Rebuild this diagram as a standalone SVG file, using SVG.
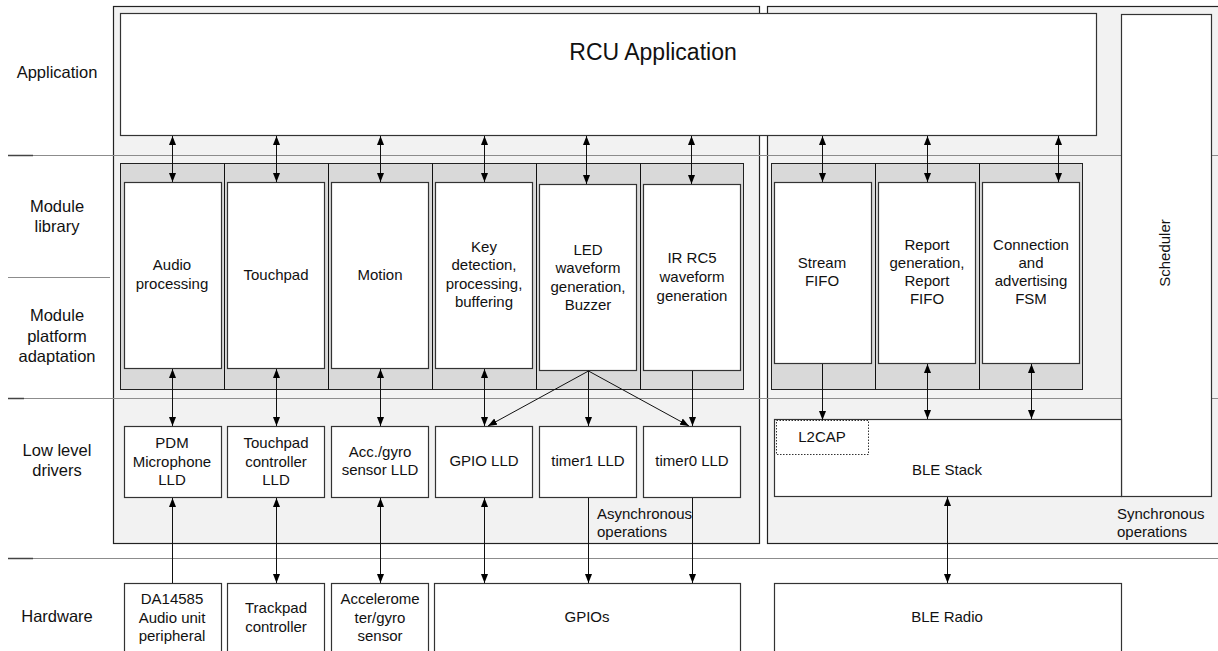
<svg xmlns="http://www.w3.org/2000/svg" width="1218" height="651" viewBox="0 0 1218 651">
<style>
text{font-family:"Liberation Sans",Arial,sans-serif;fill:#111;}
.lbl{font-size:16.5px;text-anchor:middle;}
.bx{font-size:15px;text-anchor:middle;}
.ops{font-size:15px;}
.panel{fill:#f2f2f2;stroke:#222;stroke-width:1.2;}
.strip{fill:#d9d9d9;stroke:#222;stroke-width:1;}
.box{fill:#fff;stroke:#333;stroke-width:1.2;}
.sep{stroke:#8c8c8c;stroke-width:1.2;fill:none;}
.sepd{stroke:#444;stroke-width:1.5;fill:none;}
.cn{stroke:#111;stroke-width:1;fill:none;}
</style>
<defs>
<marker id="ah" viewBox="0 0 9 8" refX="9" refY="4" markerWidth="9" markerHeight="8" markerUnits="userSpaceOnUse" orient="auto-start-reverse">
<path d="M0,0.5 L9,4 L0,7.5 Z" fill="#000"/>
</marker>
</defs>
<rect width="1218" height="651" fill="#fff"/>

<g id="panels">
<rect class="panel" x="113.5" y="6.5" width="646" height="537"/>
<rect class="panel" x="767.5" y="6.5" width="460" height="537"/>
</g>

<g id="separators">
<line class="sep" x1="8" y1="155.5" x2="1218" y2="155.5"/>
<line class="sep" x1="8" y1="398.5" x2="1218" y2="398.5"/>
<line class="sep" x1="8" y1="558.5" x2="1218" y2="558.5"/>
<line class="sep" x1="8" y1="277.5" x2="110" y2="277.5"/>
<line class="sepd" x1="8" y1="155.5" x2="33" y2="155.5"/>
<line class="sepd" x1="8" y1="398.5" x2="24" y2="398.5"/>
<line class="sepd" x1="8" y1="558.5" x2="33" y2="558.5"/>
</g>

<g id="layer-labels">
<text class="lbl" x="57" y="78">Application</text>
<text class="lbl" x="57" y="212">Module</text>
<text class="lbl" x="57" y="232">library</text>
<text class="lbl" x="57" y="321">Module</text>
<text class="lbl" x="57" y="342">platform</text>
<text class="lbl" x="57" y="362">adaptation</text>
<text class="lbl" x="57" y="456">Low level</text>
<text class="lbl" x="57" y="476">drivers</text>
<text class="lbl" x="57" y="622">Hardware</text>
</g>

<g id="rcu-application">
<rect class="box" x="120.5" y="13.5" width="976" height="122"/>
<text x="653" y="60" style="font-size:23px;text-anchor:middle;">RCU Application</text>
</g>

<g id="scheduler">
<rect class="box" x="1121.5" y="14.5" width="90" height="482"/>
<text class="bx" transform="translate(1170,253) rotate(-90)">Scheduler</text>
</g>

<g id="module-strips">
<rect class="strip" x="120.5" y="163.5" width="623" height="226"/>
<line class="cn" x1="224.5" y1="163.5" x2="224.5" y2="389.5"/>
<line class="cn" x1="328.5" y1="163.5" x2="328.5" y2="389.5"/>
<line class="cn" x1="432.5" y1="163.5" x2="432.5" y2="389.5"/>
<line class="cn" x1="536.5" y1="163.5" x2="536.5" y2="389.5"/>
<line class="cn" x1="640.5" y1="163.5" x2="640.5" y2="389.5"/>
<rect class="strip" x="771.5" y="163.5" width="311" height="226"/>
<line class="cn" x1="875.5" y1="163.5" x2="875.5" y2="389.5"/>
<line class="cn" x1="979.5" y1="163.5" x2="979.5" y2="389.5"/>
</g>

<g id="audio-processing">
<rect class="box" x="124.5" y="182.5" width="97" height="186"/>
<text class="bx" x="172" y="270">Audio</text>
<text class="bx" x="172" y="289">processing</text>
</g>
<g id="touchpad">
<rect class="box" x="227.5" y="182.5" width="97" height="186"/>
<text class="bx" x="276" y="280">Touchpad</text>
</g>
<g id="motion">
<rect class="box" x="331.5" y="182.5" width="97" height="186"/>
<text class="bx" x="380" y="280">Motion</text>
</g>
<g id="key-detection">
<rect class="box" x="435.5" y="182.5" width="97" height="186"/>
<text class="bx" x="484" y="252">Key</text>
<text class="bx" x="484" y="270">detection,</text>
<text class="bx" x="484" y="289">processing,</text>
<text class="bx" x="484" y="307">buffering</text>
</g>
<g id="led-waveform">
<rect class="box" x="539.5" y="184.5" width="97" height="186"/>
<text class="bx" x="588" y="255">LED</text>
<text class="bx" x="588" y="273">waveform</text>
<text class="bx" x="588" y="292">generation,</text>
<text class="bx" x="588" y="310">Buzzer</text>
</g>
<g id="ir-rc5">
<rect class="box" x="643.5" y="184.5" width="97" height="186"/>
<text class="bx" x="692" y="263">IR RC5</text>
<text class="bx" x="692" y="282">waveform</text>
<text class="bx" x="692" y="301">generation</text>
</g>
<g id="stream-fifo">
<rect class="box" x="774.5" y="182.5" width="97" height="181"/>
<text class="bx" x="822" y="268">Stream</text>
<text class="bx" x="822" y="286">FIFO</text>
</g>
<g id="report-generation">
<rect class="box" x="878.5" y="182.5" width="97" height="181"/>
<text class="bx" x="927" y="250">Report</text>
<text class="bx" x="927" y="268">generation,</text>
<text class="bx" x="927" y="286">Report</text>
<text class="bx" x="927" y="304">FIFO</text>
</g>
<g id="connection-fsm">
<rect class="box" x="982.5" y="182.5" width="97" height="181"/>
<text class="bx" x="1031" y="250">Connection</text>
<text class="bx" x="1031" y="268">and</text>
<text class="bx" x="1031" y="286">advertising</text>
<text class="bx" x="1031" y="304">FSM</text>
</g>

<g id="pdm-lld">
<rect class="box" x="124.5" y="426.5" width="97" height="71"/>
<text class="bx" x="172" y="448">PDM</text>
<text class="bx" x="172" y="467">Microphone</text>
<text class="bx" x="172" y="485">LLD</text>
</g>
<g id="touchpad-lld">
<rect class="box" x="227.5" y="426.5" width="97" height="71"/>
<text class="bx" x="276" y="448">Touchpad</text>
<text class="bx" x="276" y="467">controller</text>
<text class="bx" x="276" y="485">LLD</text>
</g>
<g id="accgyro-lld">
<rect class="box" x="331.5" y="426.5" width="97" height="71"/>
<text class="bx" x="380" y="457">Acc./gyro</text>
<text class="bx" x="380" y="475">sensor LLD</text>
</g>
<g id="gpio-lld">
<rect class="box" x="435.5" y="426.5" width="97" height="71"/>
<text class="bx" x="484" y="466">GPIO LLD</text>
</g>
<g id="timer1-lld">
<rect class="box" x="539.5" y="426.5" width="97" height="71"/>
<text class="bx" x="588" y="466">timer1 LLD</text>
</g>
<g id="timer0-lld">
<rect class="box" x="643.5" y="426.5" width="97" height="71"/>
<text class="bx" x="692" y="466">timer0 LLD</text>
</g>
<g id="ble-stack">
<rect class="box" x="774.5" y="419.5" width="347" height="77"/>
<text class="bx" x="947" y="475">BLE Stack</text>
</g>
<g id="l2cap">
<rect x="776.5" y="420.5" width="92" height="34" fill="#fff" stroke="#333" stroke-width="1" stroke-dasharray="1.5,1.5"/>
<text class="bx" x="822" y="442">L2CAP</text>
</g>

<g id="da14585-audio">
<rect class="box" x="124.5" y="583.5" width="97" height="80"/>
<text class="bx" x="172" y="604">DA14585</text>
<text class="bx" x="172" y="623">Audio unit</text>
<text class="bx" x="172" y="641">peripheral</text>
</g>
<g id="trackpad-controller">
<rect class="box" x="227.5" y="583.5" width="97" height="80"/>
<text class="bx" x="276" y="613">Trackpad</text>
<text class="bx" x="276" y="632">controller</text>
</g>
<g id="accelerometer">
<rect class="box" x="331.5" y="583.5" width="97" height="80"/>
<text class="bx" x="380" y="604">Accelerome</text>
<text class="bx" x="380" y="623">ter/gyro</text>
<text class="bx" x="380" y="641">sensor</text>
</g>
<g id="gpios">
<rect class="box" x="434.5" y="583.5" width="306" height="80"/>
<text class="bx" x="587" y="622">GPIOs</text>
</g>
<g id="ble-radio">
<rect class="box" x="774.5" y="583.5" width="347" height="80"/>
<text class="bx" x="947" y="622">BLE Radio</text>
</g>

<g id="op-labels">
<text class="ops" x="597" y="519">Asynchronous</text>
<text class="ops" x="597" y="537">operations</text>
<text class="ops" x="1117" y="519">Synchronous</text>
<text class="ops" x="1117" y="537">operations</text>
</g>

<g id="connectors">
<line class="cn" x1="172.5" y1="136" x2="172.5" y2="182" marker-start="url(#ah)" marker-end="url(#ah)"/>
<line class="cn" x1="276.5" y1="136" x2="276.5" y2="182" marker-start="url(#ah)" marker-end="url(#ah)"/>
<line class="cn" x1="380.5" y1="136" x2="380.5" y2="182" marker-start="url(#ah)" marker-end="url(#ah)"/>
<line class="cn" x1="484.5" y1="136" x2="484.5" y2="182" marker-start="url(#ah)" marker-end="url(#ah)"/>
<line class="cn" x1="586.5" y1="136" x2="586.5" y2="184" marker-start="url(#ah)" marker-end="url(#ah)"/>
<line class="cn" x1="691.5" y1="136" x2="691.5" y2="184" marker-start="url(#ah)" marker-end="url(#ah)"/>
<line class="cn" x1="822.5" y1="136" x2="822.5" y2="182" marker-start="url(#ah)" marker-end="url(#ah)"/>
<line class="cn" x1="927.5" y1="136" x2="927.5" y2="182" marker-start="url(#ah)" marker-end="url(#ah)"/>
<line class="cn" x1="1058.5" y1="136" x2="1058.5" y2="182" marker-start="url(#ah)" marker-end="url(#ah)"/>
<line class="cn" x1="172.5" y1="369" x2="172.5" y2="426" marker-start="url(#ah)" marker-end="url(#ah)"/>
<line class="cn" x1="276.5" y1="369" x2="276.5" y2="426" marker-start="url(#ah)" marker-end="url(#ah)"/>
<line class="cn" x1="380.5" y1="369" x2="380.5" y2="426" marker-start="url(#ah)" marker-end="url(#ah)"/>
<line class="cn" x1="484.5" y1="369" x2="484.5" y2="426" marker-start="url(#ah)" marker-end="url(#ah)"/>
<line class="cn" x1="588.5" y1="371" x2="488" y2="426" marker-end="url(#ah)"/>
<line class="cn" x1="588.5" y1="371" x2="588.5" y2="426" marker-end="url(#ah)"/>
<line class="cn" x1="588.5" y1="371" x2="689" y2="426" marker-end="url(#ah)"/>
<line class="cn" x1="692.5" y1="371" x2="692.5" y2="426" marker-end="url(#ah)"/>
<line class="cn" x1="822.5" y1="364" x2="822.5" y2="420" marker-end="url(#ah)"/>
<line class="cn" x1="927.5" y1="364" x2="927.5" y2="419" marker-start="url(#ah)" marker-end="url(#ah)"/>
<line class="cn" x1="1031.5" y1="364" x2="1031.5" y2="419" marker-start="url(#ah)" marker-end="url(#ah)"/>
<line class="cn" x1="172.5" y1="583" x2="172.5" y2="498" marker-end="url(#ah)"/>
<line class="cn" x1="276.5" y1="498" x2="276.5" y2="583" marker-start="url(#ah)" marker-end="url(#ah)"/>
<line class="cn" x1="380.5" y1="498" x2="380.5" y2="583" marker-start="url(#ah)" marker-end="url(#ah)"/>
<line class="cn" x1="484.5" y1="498" x2="484.5" y2="583" marker-start="url(#ah)" marker-end="url(#ah)"/>
<line class="cn" x1="588.5" y1="498" x2="588.5" y2="583" marker-end="url(#ah)"/>
<line class="cn" x1="692.5" y1="498" x2="692.5" y2="583" marker-end="url(#ah)"/>
<line class="cn" x1="947.5" y1="497" x2="947.5" y2="583" marker-start="url(#ah)" marker-end="url(#ah)"/>
</g>
</svg>
